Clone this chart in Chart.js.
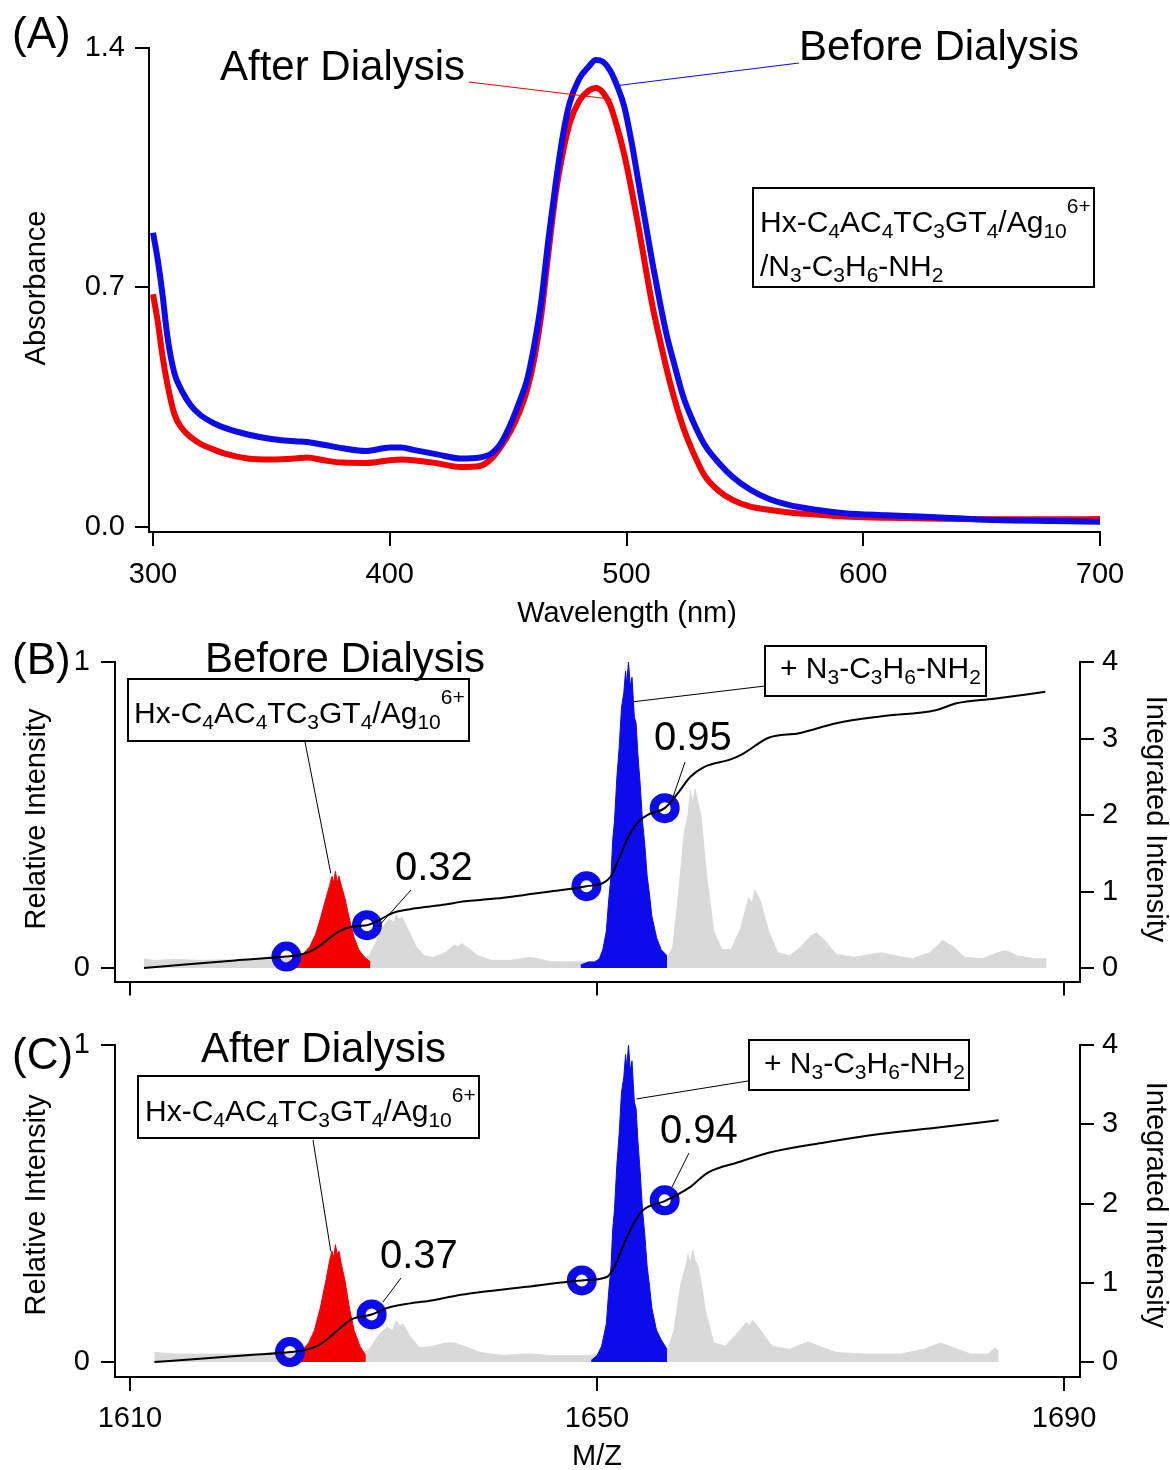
<!DOCTYPE html>
<html>
<head>
<meta charset="utf-8">
<script src="https://cdn.jsdelivr.net/npm/chart.js@4.4.1/dist/chart.umd.min.js"></script>
<style>
  body { margin: 0; background: #fff; }
  canvas { position: absolute; left: 0; }
</style>
</head>
<body>
<canvas id="chartA" width="1170" height="630" style="top:0px"></canvas>
<canvas id="chartB" width="1170" height="380" style="top:630px"></canvas>
<canvas id="chartC" width="1170" height="460" style="top:1010px"></canvas>
<script>
// ---------- (A) UV-vis data ----------
const wavelength = [300, 302, 304, 306, 309, 312, 316, 320, 326, 330, 340, 350, 360, 365, 372, 380, 390, 400, 405, 410,
  420, 430, 438, 443, 447, 451, 455, 458, 461, 464, 467, 470, 473, 476, 480, 484, 487, 490, 493, 496,
  499, 502, 505, 508, 511, 514, 517, 520, 524, 528, 533, 539, 545, 552, 560, 568, 580, 592, 610, 624,
  640, 656, 680, 700];
const absBefore = [0.86, 0.78, 0.68, 0.56, 0.45, 0.40, 0.355, 0.327, 0.302, 0.29, 0.27, 0.257, 0.25, 0.248, 0.24, 0.23, 0.222, 0.232, 0.232, 0.225,
  0.212, 0.2, 0.203, 0.215, 0.245, 0.3, 0.37, 0.43, 0.53, 0.66, 0.84, 1.0, 1.14, 1.24, 1.31, 1.345, 1.365, 1.36, 1.335, 1.29,
  1.23, 1.13, 1.01, 0.89, 0.77, 0.66, 0.56, 0.48, 0.38, 0.31, 0.24, 0.187, 0.145, 0.11, 0.082, 0.065, 0.05, 0.04, 0.034, 0.03,
  0.025, 0.02, 0.017, 0.015];
const absAfter = [0.68, 0.6, 0.5, 0.42, 0.33, 0.29, 0.262, 0.243, 0.225, 0.215, 0.2, 0.197, 0.2, 0.203, 0.195, 0.188, 0.187, 0.195, 0.197, 0.195,
  0.186, 0.175, 0.178, 0.2, 0.235, 0.28, 0.34, 0.4, 0.49, 0.62, 0.8, 0.97, 1.09, 1.18, 1.245, 1.275, 1.283, 1.27, 1.235, 1.17,
  1.09, 0.99, 0.88, 0.76, 0.645, 0.55, 0.46, 0.38, 0.29, 0.22, 0.15, 0.105, 0.078, 0.06, 0.05, 0.043, 0.036, 0.03, 0.027, 0.025,
  0.023, 0.022, 0.022, 0.023];
const wlTicks = [300, 400, 500, 600, 700];
const absTicks = [0, 0.7, 1.4];

// ---------- (B) before dialysis, mass spectrum ----------
const mzGrayB = [1611.2, 1612, 1614, 1616, 1618, 1620, 1622, 1624, 1626, 1628, 1630, 1630.5, 1631, 1631.6, 1632.2, 1632.6, 1632.8, 1633, 1633.3, 1633.9,
  1634.5, 1635.2, 1636, 1637, 1637.8, 1638.1, 1638.4, 1639, 1639.8, 1641, 1642.5, 1643.5, 1644.2, 1645, 1646, 1647.5, 1650, 1653, 1656, 1656.5,
  1657, 1657.5, 1657.8, 1658, 1658.2, 1658.4, 1658.6, 1658.9, 1659.4, 1660, 1660.7, 1661.5, 1662.3, 1663, 1663.3, 1663.5, 1663.8, 1664, 1664.7, 1665.5,
  1666.5, 1667.5, 1668.3, 1668.8, 1669.5, 1670.5, 1672, 1673.5, 1674.4, 1675.5, 1677, 1678.5, 1679.6, 1680.5, 1681.5, 1683, 1684.3, 1685, 1686, 1687.5,
  1688.5];
const intGrayB = [0.03, 0.025, 0.028, 0.025, 0.027, 0.025, 0.03, 0.03, 0.03, 0.03, 0.03, 0.04, 0.08, 0.13, 0.16, 0.15, 0.175, 0.16, 0.165, 0.12,
  0.07, 0.04, 0.035, 0.05, 0.075, 0.07, 0.08, 0.065, 0.04, 0.025, 0.025, 0.03, 0.035, 0.03, 0.02, 0.02, 0.02, 0.02, 0.03, 0.07,
  0.25, 0.45, 0.5, 0.58, 0.54, 0.585, 0.55, 0.5, 0.3, 0.12, 0.06, 0.06, 0.13, 0.23, 0.21, 0.255, 0.235, 0.22, 0.12, 0.05,
  0.04, 0.07, 0.105, 0.115, 0.09, 0.045, 0.035, 0.045, 0.05, 0.04, 0.03, 0.05, 0.09, 0.07, 0.035, 0.03, 0.05, 0.057, 0.04, 0.03,
  0.03];
const mzRedB = [1623.1, 1623.6, 1624.2, 1624.8, 1625.4, 1625.9, 1626.3, 1626.8, 1627.1, 1627.3, 1627.45, 1627.6, 1627.75, 1627.9, 1628.1, 1628.4, 1628.8, 1629.2, 1629.6, 1630.1,
  1630.6];
const intRedB = [0.005, 0.02, 0.035, 0.045, 0.07, 0.11, 0.16, 0.23, 0.27, 0.3, 0.28, 0.316, 0.28, 0.3, 0.27, 0.23, 0.16, 0.1, 0.06, 0.035,
  0.02];
const mzBlueB = [1648.6, 1649.3, 1649.8, 1650.2, 1650.5, 1650.8, 1651.0, 1651.2, 1651.35, 1651.5, 1651.7, 1651.9, 1652.1, 1652.3, 1652.45, 1652.55, 1652.7, 1652.85, 1653.0, 1653.2,
  1653.35, 1653.5, 1653.7, 1653.9, 1654.1, 1654.3, 1654.5, 1654.7, 1655.1, 1655.5, 1656];
const intBlueB = [0.01, 0.02, 0.02, 0.03, 0.06, 0.12, 0.22, 0.3, 0.42, 0.48, 0.62, 0.72, 0.85, 0.9, 0.97, 0.93, 1.0, 0.92, 0.95, 0.82,
  0.8, 0.7, 0.6, 0.48, 0.4, 0.3, 0.24, 0.17, 0.1, 0.06, 0.04];
const mzSumB = [1611.2, 1615, 1619, 1623.4, 1624.5, 1625.5, 1626.5, 1627.5, 1628.5, 1629.5, 1630.3, 1631.5, 1632.5, 1634, 1635.5, 1637, 1638.5, 1640, 1642, 1644.5,
  1647, 1649.1, 1650.5, 1651.2, 1651.8, 1652.4, 1653, 1653.6, 1654.3, 1655.8, 1657, 1658, 1659.2, 1661.5, 1662.5, 1664.7, 1667.3, 1670.5, 1674.4, 1679,
  1680.8, 1684, 1688.4];
const sumB = [0, 0.05, 0.1, 0.15, 0.17, 0.22, 0.32, 0.44, 0.52, 0.55, 0.56, 0.64, 0.72, 0.77, 0.8, 0.83, 0.87, 0.89, 0.92, 0.97,
  1.02, 1.07, 1.11, 1.2, 1.4, 1.62, 1.8, 1.92, 2.0, 2.09, 2.3, 2.5, 2.63, 2.73, 2.8, 3.01, 3.07, 3.2, 3.29, 3.37,
  3.46, 3.52, 3.61];
const mzMarkB = [1623.4, 1630.3, 1649.1, 1655.8];
const markB = [0.15, 0.56, 1.07, 2.09];

// ---------- (C) after dialysis, mass spectrum ----------
const mzGrayC = [1612.1, 1614, 1616, 1618, 1620, 1622, 1626, 1630, 1630.5, 1631.2, 1632, 1632.5, 1632.8, 1633.1, 1633.4, 1634, 1634.8, 1636, 1637, 1637.8,
  1638.6, 1640, 1642, 1643.5, 1644.5, 1646, 1648, 1652, 1656, 1656.6, 1657.2, 1657.6, 1657.8, 1658, 1658.2, 1658.4, 1658.7, 1659.3, 1660, 1661,
  1662, 1662.8, 1663.1, 1663.3, 1663.6, 1664, 1665, 1666.5, 1667.5, 1668.1, 1669, 1670.5, 1673, 1676, 1678, 1679.4, 1680.5, 1682, 1683.5, 1684.1,
  1684.4];
const intGrayC = [0.03, 0.025, 0.025, 0.025, 0.025, 0.025, 0.03, 0.03, 0.04, 0.08, 0.11, 0.1, 0.13, 0.115, 0.12, 0.08, 0.045, 0.05, 0.06, 0.06,
  0.05, 0.03, 0.02, 0.025, 0.025, 0.02, 0.02, 0.02, 0.03, 0.1, 0.25, 0.3, 0.34, 0.31, 0.353, 0.32, 0.3, 0.16, 0.06, 0.05,
  0.09, 0.125, 0.115, 0.132, 0.12, 0.1, 0.05, 0.04, 0.055, 0.063, 0.05, 0.03, 0.025, 0.025, 0.04, 0.06, 0.045, 0.025, 0.025, 0.045,
  0.035];
const mzRedC = [1623.6, 1624.1, 1624.7, 1625.3, 1625.8, 1626.3, 1626.8, 1627.1, 1627.3, 1627.45, 1627.6, 1627.75, 1627.9, 1628.1, 1628.4, 1628.8, 1629.2, 1629.7, 1630.2];
const intRedC = [0.005, 0.02, 0.035, 0.06, 0.1, 0.17, 0.26, 0.32, 0.35, 0.33, 0.37, 0.34, 0.35, 0.31, 0.26, 0.17, 0.1, 0.05, 0.02];
const mzBlueC = [1649.5, 1650, 1650.4, 1650.8, 1651.0, 1651.2, 1651.35, 1651.5, 1651.7, 1651.9, 1652.1, 1652.3, 1652.45, 1652.55, 1652.7, 1652.85, 1653.0, 1653.2, 1653.35, 1653.5,
  1653.7, 1653.9, 1654.1, 1654.3, 1654.5, 1654.7, 1655.1, 1655.5, 1656];
const intBlueC = [0.005, 0.02, 0.05, 0.12, 0.22, 0.3, 0.42, 0.48, 0.62, 0.72, 0.85, 0.9, 0.97, 0.93, 1.0, 0.92, 0.95, 0.82, 0.8, 0.7,
  0.6, 0.48, 0.4, 0.3, 0.24, 0.17, 0.1, 0.07, 0.04];
const mzSumC = [1612.1, 1616, 1620, 1623.8, 1625, 1626, 1627, 1628, 1629, 1630.7, 1632, 1634, 1636, 1638, 1639.9, 1644, 1648.7, 1650.8, 1651.5, 1652.2,
  1652.9, 1653.9, 1655.8, 1657.9, 1659.5, 1662.1, 1664.7, 1669.5, 1674.4, 1679.2, 1684.4];
const sumC = [0, 0.04, 0.085, 0.126, 0.15, 0.2, 0.3, 0.43, 0.54, 0.6, 0.68, 0.74, 0.78, 0.84, 0.88, 0.95, 1.03, 1.07, 1.2, 1.45,
  1.68, 1.91, 2.03, 2.2, 2.39, 2.52, 2.64, 2.77, 2.88, 2.96, 3.05];
const mzMarkC = [1623.7, 1630.7, 1648.7, 1655.8];
const markC = [0.126, 0.6, 1.03, 2.04];

const mzTicks = [1610, 1650, 1690];
const relTicks = [0, 1];
const sumTicks = [0, 1, 2, 3, 4];

// formula labels: [text, 0 normal | 1 subscript | 2 superscript]
const formulaHx = [['Hx-C'], ['4', 1], ['AC'], ['4', 1], ['TC'], ['3', 1], ['GT'], ['4', 1], ['/Ag'], ['10', 1], ['6+', 2]];
const formulaLinker = [['/N'], ['3', 1], ['-C'], ['3', 1], ['H'], ['6', 1], ['-NH'], ['2', 1]];
const formulaAdduct = [['+ N'], ['3', 1], ['-C'], ['3', 1], ['H'], ['6', 1], ['-NH'], ['2', 1]];

const FONT = '"Liberation Sans", Arial, Helvetica, sans-serif';
const BLUE = '#0b0bec';
const RED = '#f40000';
const GRAY = '#d9d9d9';

Chart.defaults.font.family = FONT;
Chart.defaults.font.size = 29;
Chart.defaults.color = '#000';

const xy = (xs, ys) => xs.map((v, i) => ({ x: v, y: ys[i] }));
const fixedTicks = vals => scale => { scale.ticks = vals.map(v => ({ value: v })); };

function text(ctx, s, x, y, size, align) {
  ctx.font = size + 'px ' + FONT;
  ctx.textAlign = align || 'left';
  ctx.fillText(s, x, y);
}

function vtext(ctx, s, x, y, size, dir) {
  ctx.save();
  ctx.translate(x, y);
  ctx.rotate(dir * Math.PI / 2);
  ctx.font = size + 'px ' + FONT;
  ctx.textAlign = 'center';
  ctx.textBaseline = 'middle';
  ctx.fillText(s, 0, 0);
  ctx.restore();
}

function rich(ctx, x, y, parts, size) {
  let cx = x;
  ctx.textAlign = 'left';
  parts.forEach(p => {
    const mode = p[1] || 0;
    ctx.font = (mode ? Math.round(size * 0.7) : size) + 'px ' + FONT;
    const dy = mode === 1 ? size * 0.2 : mode === 2 ? -size * 0.65 : 0;
    ctx.fillText(p[0], cx, y + dy);
    cx += ctx.measureText(p[0]).width;
  });
}

function seg(ctx, x1, y1, x2, y2, color) {
  ctx.beginPath();
  ctx.strokeStyle = color;
  ctx.lineWidth = 1;
  ctx.moveTo(x1, y1);
  ctx.lineTo(x2, y2);
  ctx.stroke();
}

function box(ctx, x, y, w, h) {
  ctx.strokeStyle = '#000';
  ctx.lineWidth = 2;
  ctx.strokeRect(x, y, w, h);
}

const axisGrid = { drawOnChartArea: false, drawTicks: true, tickLength: 14, color: '#000', lineWidth: 2 };
const axisBorder = { display: true, color: '#000', width: 2 };

// ---------- chart A ----------
const notesA = {
  id: 'notesA',
  afterDraw(chart) {
    const ctx = chart.ctx, sx = chart.scales.x, sy = chart.scales.y;
    ctx.save();
    ctx.fillStyle = '#000';
    ctx.textBaseline = 'alphabetic';
    text(ctx, '(A)', 12, 48, 44);
    text(ctx, 'After Dialysis', 220, 80, 42);
    text(ctx, 'Before Dialysis', 799, 60, 42);
    seg(ctx, 469, 82, sx.getPixelForValue(494), sy.getPixelForValue(1.25), RED);
    seg(ctx, 799, 63, sx.getPixelForValue(496), sy.getPixelForValue(1.29), BLUE);
    box(ctx, 753, 188, 341, 99);
    rich(ctx, 760, 232, formulaHx, 30);
    rich(ctx, 760, 276, formulaLinker, 30);
    text(ctx, 'Wavelength (nm)', 627, 622, 29, 'center');
    vtext(ctx, 'Absorbance', 37, 288, 29, -1);
    ctx.restore();
  }
};

new Chart(document.getElementById('chartA'), {
  type: 'line',
  data: {
    datasets: [{
      label: 'Before Dialysis',
      data: xy(wavelength, absBefore),
      borderColor: BLUE,
      borderWidth: 6,
      pointRadius: 0,
      cubicInterpolationMode: 'monotone'
    }, {
      label: 'After Dialysis',
      data: xy(wavelength, absAfter),
      borderColor: RED,
      borderWidth: 6,
      pointRadius: 0,
      cubicInterpolationMode: 'monotone'
    }]
  },
  options: {
    responsive: false,
    animation: false,
    layout: { padding: { top: 48, right: 70, left: 0, bottom: 0 } },
    plugins: { legend: { display: false }, tooltip: { enabled: false } },
    scales: {
      x: {
        type: 'linear', min: 298.3, max: 700,
        afterBuildTicks: fixedTicks(wlTicks),
        afterFit: s => { s.height = 98; },
        ticks: { padding: 12, callback: v => String(v) },
        grid: axisGrid, border: axisBorder
      },
      y: {
        min: -0.015, max: 1.4,
        afterBuildTicks: fixedTicks(absTicks),
        afterFit: s => { s.width = 149; },
        ticks: { padding: 10, callback: v => v.toFixed(1) },
        grid: axisGrid, border: axisBorder
      }
    }
  },
  plugins: [notesA]
});

// ---------- charts B and C ----------
function massChart(id, p) {
  const notes = {
    id: 'notes' + id,
    afterDraw(chart) {
      const ctx = chart.ctx, sx = chart.scales.x, sy = chart.scales.y;
      ctx.save();
      ctx.fillStyle = '#000';
      ctx.textBaseline = 'alphabetic';
      text(ctx, p.tag, 12, p.tagY, 44);
      text(ctx, p.title, p.titleX, p.titleY, 42);
      box(ctx, p.hxBox[0], p.hxBox[1], p.hxBox[2], p.hxBox[3]);
      rich(ctx, p.hxText[0], p.hxText[1], formulaHx, 30);
      box(ctx, p.adBox[0], p.adBox[1], p.adBox[2], p.adBox[3]);
      rich(ctx, p.adText[0], p.adText[1], formulaAdduct, 30);
      seg(ctx, p.hxLead[0], p.hxLead[1], sx.getPixelForValue(p.hxLead[2]), sy.getPixelForValue(p.hxLead[3]), '#000');
      seg(ctx, p.adLead[0], p.adLead[1], sx.getPixelForValue(p.adLead[2]), sy.getPixelForValue(p.adLead[3]), '#000');
      p.ratios.forEach(r => {
        text(ctx, r.s, r.x, r.y, 40);
        seg(ctx, r.l[0], r.l[1], r.l[2], r.l[3], '#000');
      });
      vtext(ctx, 'Relative Intensity', 37, p.midY, 29, -1);
      vtext(ctx, 'Integrated Intensity', 1155, p.midY, 29, 1);
      if (p.xTitle) text(ctx, 'M/Z', 597, p.xTitleY, 29, 'center');
      ctx.restore();
    }
  };

  new Chart(document.getElementById(id), {
    type: 'line',
    data: {
      datasets: [{
        label: 'integration marks',
        data: xy(p.mzMark, p.mark),
        yAxisID: 'y2',
        showLine: false,
        pointStyle: 'circle',
        pointRadius: 10.5,
        pointBorderWidth: 9,
        pointBorderColor: BLUE,
        pointBackgroundColor: 'rgba(0,0,0,0)',
        order: 1
      }, {
        label: 'integrated intensity',
        data: xy(p.mzSum, p.sum),
        yAxisID: 'y2',
        borderColor: '#000',
        borderWidth: 2,
        pointRadius: 0,
        cubicInterpolationMode: 'monotone',
        order: 0
      }, {
        label: '+ linker',
        data: xy(p.mzBlue, p.blue),
        borderColor: BLUE, backgroundColor: BLUE,
        borderWidth: 1, pointRadius: 0, fill: 'origin',
        order: 2
      }, {
        label: 'cluster',
        data: xy(p.mzRed, p.red),
        borderColor: RED, backgroundColor: RED,
        borderWidth: 1, pointRadius: 0, fill: 'origin',
        order: 3
      }, {
        label: 'spectrum',
        data: xy(p.mzGray, p.gray),
        borderColor: GRAY, backgroundColor: GRAY,
        borderWidth: 1, pointRadius: 0, fill: 'origin',
        order: 4
      }]
    },
    options: {
      responsive: false,
      animation: false,
      layout: { padding: { top: p.top, right: 0, left: 0, bottom: 0 } },
      plugins: { legend: { display: false }, tooltip: { enabled: false } },
      scales: {
        x: {
          type: 'linear', min: 1608.72, max: 1691.37,
          afterBuildTicks: fixedTicks(mzTicks),
          afterFit: s => { s.height = p.bottom; },
          ticks: { display: p.xLabels, padding: 11, callback: v => String(v) },
          grid: axisGrid, border: axisBorder
        },
        y: {
          position: 'left', min: p.yMin, max: 1,
          afterBuildTicks: fixedTicks(relTicks),
          afterFit: s => { s.width = 115; },
          ticks: { padding: 11 },
          grid: axisGrid, border: axisBorder
        },
        y2: {
          position: 'right', min: p.y2Min, max: 4,
          afterBuildTicks: fixedTicks(sumTicks),
          afterFit: s => { s.width = 90; },
          ticks: { padding: 8 },
          grid: axisGrid, border: axisBorder
        }
      }
    },
    plugins: [notes]
  });
}

massChart('chartB', {
  top: 32, bottom: 18, yMin: -0.0443, y2Min: -0.177, xLabels: false,
  mzGray: mzGrayB, gray: intGrayB, mzRed: mzRedB, red: intRedB, mzBlue: mzBlueB, blue: intBlueB,
  mzSum: mzSumB, sum: sumB, mzMark: mzMarkB, mark: markB,
  tag: '(B)', tagY: 44, title: 'Before Dialysis', titleX: 205, titleY: 42,
  hxBox: [128, 49, 341, 62], hxText: [134, 93],
  adBox: [765, 16, 221, 50], adText: [780, 48],
  hxLead: [305, 112, 1627.2, 0.31], adLead: [765, 56, 1653.1, 0.87],
  ratios: [{ s: '0.32', x: 395, y: 250, l: [411, 260, 377, 298] },
           { s: '0.95', x: 654, y: 120, l: [685, 132, 671, 173] }],
  midY: 189, xTitle: false
});

massChart('chartC', {
  top: 35, bottom: 93, yMin: -0.0473, y2Min: -0.189, xLabels: true,
  mzGray: mzGrayC, gray: intGrayC, mzRed: mzRedC, red: intRedC, mzBlue: mzBlueC, blue: intBlueC,
  mzSum: mzSumC, sum: sumC, mzMark: mzMarkC, mark: markC,
  tag: '(C)', tagY: 59, title: 'After Dialysis', titleX: 201, titleY: 52,
  hxBox: [138, 66, 341, 62], hxText: [145, 111],
  adBox: [749, 30, 220, 50], adText: [764, 63],
  hxLead: [313, 130, 1627.2, 0.35], adLead: [748, 71, 1653.4, 0.83],
  ratios: [{ s: '0.37', x: 380, y: 258, l: [401, 268, 383, 292] },
           { s: '0.94', x: 660, y: 133, l: [689, 143, 672, 177] }],
  midY: 195, xTitle: true, xTitleY: 455
});
</script>
</body>
</html>
